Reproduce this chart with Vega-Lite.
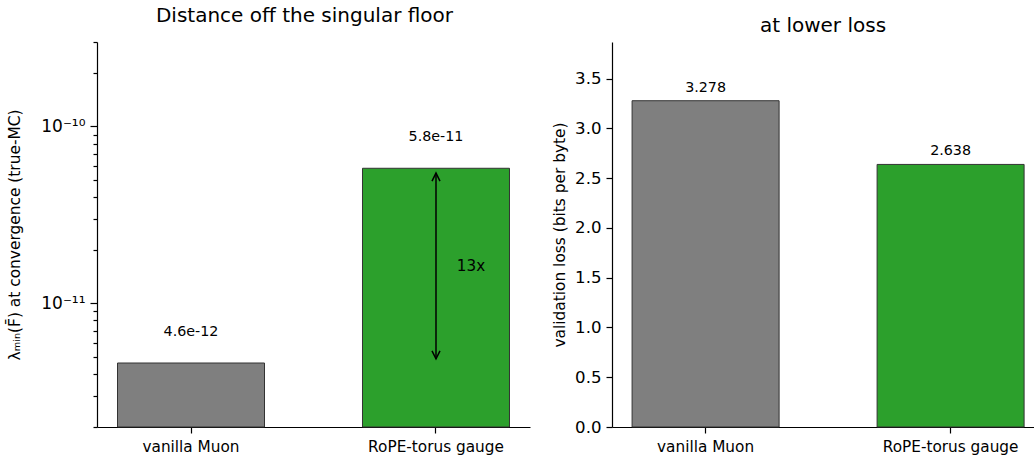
{
  "$schema": "https://vega.github.io/schema/vega-lite/v6.json",
  "autosize": {"type": "pad"},
  "padding": {"left": 7, "top": 6, "right": 0, "bottom": 0},
  "config": {
    "font": "DejaVu Sans",
    "view": {"stroke": null},
    "axis": {"domainColor": "black", "tickColor": "black", "labelColor": "black", "titleColor": "black", "grid": false, "domainWidth": 1.2, "tickWidth": 1.2, "labelFont": "DejaVu Sans", "titleFont": "DejaVu Sans", "titleFontWeight": "normal"},
    "title": {"font": "DejaVu Sans", "fontSize": 20, "fontWeight": "normal", "color": "black"}
  },
  "datasets": {
    "lam": [
      {"method": "vanilla Muon", "lam": 4.6e-12},
      {"method": "RoPE-torus gauge", "lam": 5.8e-11}
    ],
    "arrow": [
      {"method": "RoPE-torus gauge", "lo": 4.85e-12, "hi": 5.45e-11, "mid": 1.63e-11, "ratio": "13x"}
    ],
    "heads": [
      {"method": "RoPE-torus gauge", "y": 5.45e-11, "end": "top"},
      {"method": "RoPE-torus gauge", "y": 4.85e-12, "end": "bottom"}
    ],
    "loss": [
      {"method": "vanilla Muon", "loss": 3.278},
      {"method": "RoPE-torus gauge", "loss": 2.638}
    ]
  },
  "bounds": "flush",
  "spacing": 82,
  "hconcat": [
    {
      "width": 433,
      "height": 385,
      "title": {"text": "Distance off the singular floor", "offset": 15, "dx": -9},
      "resolve": {"axis": {"y": "independent"}},
      "layer": [
        {
          "data": {"name": "lam"},
          "mark": {"type": "bar", "stroke": "#333333", "strokeWidth": 1},
          "encoding": {
            "x": {"field": "method", "type": "nominal", "sort": ["vanilla Muon", "RoPE-torus gauge"], "scale": {"paddingInner": 0.4, "paddingOuter": 0.0837}, "axis": {"title": null, "labelAngle": 0, "labelFontSize": 15.3, "tickSize": 6, "labelPadding": 6}},
            "y": {"field": "lam", "type": "quantitative", "scale": {"type": "log", "domain": [2e-12, 3e-10], "nice": false}, "axis": {"orient": "left", "values": [1e-11, 1e-10], "labelExpr": "datum.value < 5e-11 ? '10⁻¹¹' : '10⁻¹⁰'", "tickSize": 7, "labelFontSize": 17, "labelPadding": 5, "title": "λₘᵢₙ(F̄) at convergence (true-MC)", "titleFontSize": 15.4, "titlePadding": 18}},
            "y2": {"datum": 2e-12},
            "color": {"field": "method", "type": "nominal", "scale": {"domain": ["vanilla Muon", "RoPE-torus gauge"], "range": ["#7f7f7f", "#2ca02c"]}, "legend": null}
          }
        },
        {
          "data": {"name": "lam"},
          "mark": {"type": "point", "opacity": 0},
          "encoding": {
            "x": {"field": "method", "type": "nominal", "sort": ["vanilla Muon", "RoPE-torus gauge"]},
            "y": {"field": "lam", "type": "quantitative", "axis": {"orient": "left", "values": [2e-12, 3e-12, 4e-12, 5e-12, 6e-12, 7e-12, 8e-12, 9e-12, 2e-11, 3e-11, 4e-11, 5e-11, 6e-11, 7e-11, 8e-11, 9e-11, 2e-10, 3e-10], "labels": false, "tickSize": 4, "domain": false, "title": null}}
          }
        },
        {
          "data": {"name": "lam"},
          "mark": {"type": "text", "fontSize": 14.3, "color": "black", "baseline": "middle", "dy": -31},
          "encoding": {
            "x": {"field": "method", "type": "nominal", "sort": ["vanilla Muon", "RoPE-torus gauge"]},
            "y": {"field": "lam", "type": "quantitative", "axis": null},
            "text": {"field": "lam", "type": "quantitative", "format": ".1e"}
          }
        },
        {
          "data": {"name": "arrow"},
          "mark": {"type": "rule", "color": "black", "strokeWidth": 1.5},
          "encoding": {
            "x": {"field": "method", "type": "nominal", "sort": ["vanilla Muon", "RoPE-torus gauge"]},
            "y": {"field": "lo", "type": "quantitative", "axis": null},
            "y2": {"field": "hi"}
          }
        },
        {
          "data": {"name": "heads"},
          "mark": {"type": "point", "filled": false, "color": "black", "strokeWidth": 1.5, "size": 64, "opacity": 1},
          "encoding": {
            "x": {"field": "method", "type": "nominal", "sort": ["vanilla Muon", "RoPE-torus gauge"]},
            "y": {"field": "y", "type": "quantitative", "axis": null},
            "shape": {"field": "end", "type": "nominal", "scale": {"domain": ["top", "bottom"], "range": ["M-1,2L0,0L1,2", "M-1,-2L0,0L1,-2"]}, "legend": null}
          }
        },
        {
          "data": {"name": "arrow"},
          "mark": {"type": "text", "fontSize": 15.2, "color": "black", "baseline": "middle", "align": "center", "dx": 35},
          "encoding": {
            "x": {"field": "method", "type": "nominal", "sort": ["vanilla Muon", "RoPE-torus gauge"]},
            "y": {"field": "mid", "type": "quantitative", "axis": null},
            "text": {"field": "ratio"}
          }
        }
      ]
    },
    {
      "width": 422,
      "height": 385,
      "title": {"text": "at lower loss", "offset": 6},
      "data": {"name": "loss"},
      "encoding": {
        "x": {"field": "method", "type": "nominal", "sort": ["vanilla Muon", "RoPE-torus gauge"], "scale": {"paddingInner": 0.4, "paddingOuter": 0.0612, "align": 0.67}, "axis": {"title": null, "labelAngle": 0, "labelFontSize": 15.3, "tickSize": 6, "labelPadding": 6}},
        "y": {"field": "loss", "type": "quantitative", "scale": {"domain": [0, 3.868], "nice": false}, "axis": {"values": [0, 0.5, 1, 1.5, 2, 2.5, 3, 3.5], "format": ".1f", "tickSize": 6, "labelFontSize": 16.6, "labelPadding": 5, "title": "validation loss (bits per byte)", "titleFontSize": 15.4, "titlePadding": 7}}
      },
      "layer": [
        {
          "mark": {"type": "bar", "stroke": "#333333", "strokeWidth": 1},
          "encoding": {
            "color": {"field": "method", "type": "nominal", "scale": {"domain": ["vanilla Muon", "RoPE-torus gauge"], "range": ["#7f7f7f", "#2ca02c"]}, "legend": null}
          }
        },
        {
          "mark": {"type": "text", "fontSize": 14.3, "color": "black", "baseline": "middle", "dy": -13},
          "encoding": {
            "text": {"field": "loss", "type": "quantitative", "format": ".3f"}
          }
        }
      ]
    }
  ]
}
